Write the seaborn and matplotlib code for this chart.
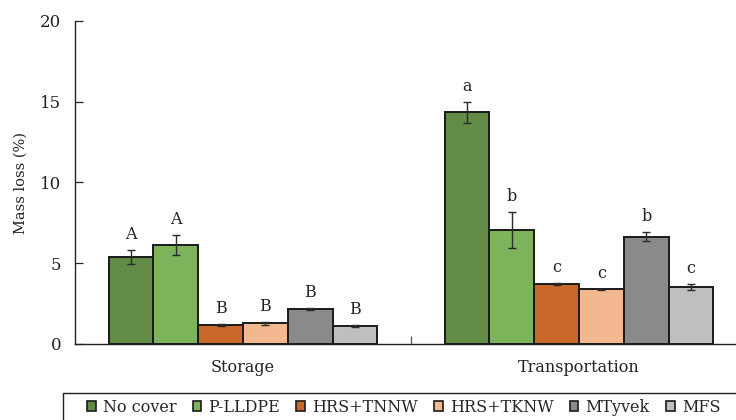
import numpy as np
import pandas as pd
import matplotlib
matplotlib.use("Agg")
import matplotlib.pyplot as plt
from matplotlib.patches import Rectangle
from matplotlib.ticker import FixedLocator
import seaborn as sns

# Mean mass loss (%) and standard deviations for each covering treatment
stages = ["Storage", "Transportation"]
covers = ["No cover", "P-LLDPE", "HRS+TNNW", "HRS+TKNW", "MTyvek", "MFS"]
storage_mean = [5.38, 6.13, 1.18, 1.27, 2.15, 1.12]
storage_sd = [0.45, 0.65, 0.05, 0.10, 0.07, 0.05]
transport_mean = [14.35, 7.05, 3.70, 3.38, 6.65, 3.55]
transport_sd = [0.64, 1.10, 0.07, 0.04, 0.28, 0.18]
storage_letters = ["A", "A", "B", "B", "B", "B"]
transport_letters = ["a", "b", "c", "c", "b", "c"]
colors = ["#628C46", "#7DB45B", "#C8692A", "#F4B890", "#8A8A8A", "#BFBFBF"]

df = pd.DataFrame({
    "stage": np.repeat(stages, len(covers)),
    "cover": covers * len(stages),
    "mean": storage_mean + transport_mean,
    "sd": storage_sd + transport_sd,
    "letter": storage_letters + transport_letters,
})

sns.set_theme(style="white")
plt.rcParams["font.family"] = ["DejaVu Serif"]

W, H = 736, 420
fig = plt.figure(figsize=(W / 100, H / 100), dpi=100)
ax = fig.add_axes([75 / W, 1 - 344 / H, 672 / W, 323 / H])

sns.barplot(data=df, x="stage", y="mean", hue="cover", order=stages,
            hue_order=covers, palette=colors, width=0.8, errorbar=None,
            edgecolor="#1a1a1a", linewidth=1.4, saturation=1, ax=ax)

# Error bars and significance letters drawn on top of each bar
for cover, container in zip(covers, ax.containers):
    sub = df[df["cover"] == cover].set_index("stage").loc[stages]
    xs = [p.get_x() + p.get_width() / 2 for p in container.patches]
    hs = [p.get_height() for p in container.patches]
    ax.errorbar(xs, hs, yerr=sub["sd"].values, fmt="none", ecolor="#2a2a2a",
                elinewidth=1.0, capsize=3, capthick=1.0, zorder=5)
    for x, h, s, lab in zip(xs, hs, sub["sd"].values, sub["letter"].values):
        ax.annotate(lab, (x, h + s), xytext=(0, 5), textcoords="offset points",
                    ha="center", va="bottom", fontsize=11.5, color="#222222")

ax.set_ylim(0, 20)
ax.set_xlim(-0.5, 1.5)
ax.set_yticks([0, 5, 10, 15, 20])
ax.tick_params(axis="y", direction="in", length=6, width=0.9, labelsize=12,
               colors="#222222", pad=10, left=True)
ax.tick_params(axis="x", which="major", length=0, labelsize=11.5, pad=11,
               colors="#222222")
ax.xaxis.set_minor_locator(FixedLocator([0.5]))
ax.tick_params(axis="x", which="minor", direction="in", length=6, width=0.9,
               bottom=True, color="#555555")
ax.set_xlabel("")
ax.set_ylabel("Mass loss (%)", fontsize=10.5, color="#222222", labelpad=9)

sns.despine(ax=ax, top=True, right=True)
for side in ["left", "bottom"]:
    ax.spines[side].set_color("#222222")
    ax.spines[side].set_linewidth(1.0)

# Legend row below the axes, in a box that runs past the figure edge
handles, labels = ax.get_legend_handles_labels()
ax.get_legend().remove()
leg = fig.legend(handles, labels, loc="center left",
                 bbox_to_anchor=(87 / W, 1 - 407 / H), ncol=6,
                 frameon=False, fontsize=11.5, handlelength=0.55,
                 handleheight=0.55, handletextpad=0.45, columnspacing=1.0,
                 borderpad=0, borderaxespad=0)
for h in leg.legend_handles:
    h.set_edgecolor("#1a1a1a")
    h.set_linewidth(1.2)
fig.patches.append(Rectangle((63 / W, -0.1), 1.0, 1 - 393 / H + 0.1,
                             transform=fig.transFigure, fill=False,
                             edgecolor="#222222", linewidth=1.0,
                             clip_on=False))

fig.savefig("out.png", dpi=100)
